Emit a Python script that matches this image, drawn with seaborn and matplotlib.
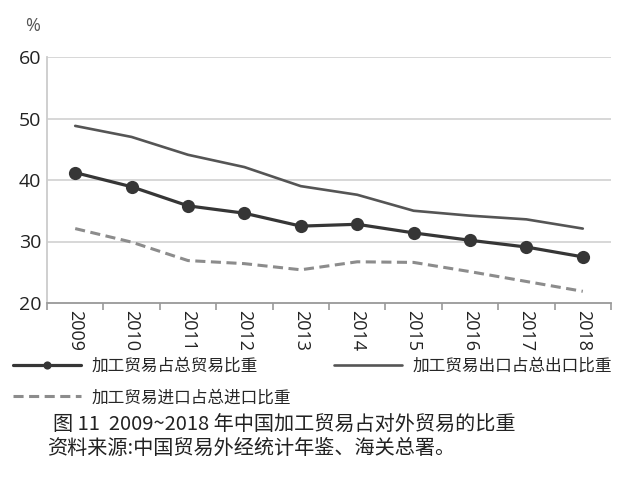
import matplotlib
matplotlib.use('Agg')
import matplotlib.pyplot as plt
import seaborn as sns
import numpy as np

years = ['2009', '2010', '2011', '2012', '2013', '2014', '2015', '2016', '2017', '2018']
total_share = [41.2, 38.9, 35.8, 34.6, 32.5, 32.8, 31.4, 30.2, 29.1, 27.5]
export_share = [48.8, 47.0, 44.1, 42.1, 39.0, 37.6, 35.0, 34.2, 33.6, 32.1]
import_share = [32.1, 29.9, 26.9, 26.4, 25.4, 26.7, 26.6, 25.1, 23.5, 21.9]
series_names = ['加工贸易占总贸易比重', '加工贸易出口占总出口比重', '加工贸易进口占总进口比重']
y_ticks = [20, 30, 40, 50, 60]
unit_label = '%'
caption = '图 11  2009~2018 年中国加工贸易占对外贸易的比重'
source = '资料来源:中国贸易外经统计年鉴、海关总署。'

sns.set_theme(style='white')
plt.rcParams['font.family'] = ['Noto Sans CJK SC', 'DejaVu Sans']

fig = plt.figure(figsize=(6.37, 4.79), dpi=100)
ax = fig.add_axes([47 / 637, 1 - 303 / 479, 564 / 637, 246 / 479])

x = np.arange(len(years))
sns.lineplot(x=x, y=total_share, ax=ax, color='#363636', linewidth=2.3,
             marker='o', markersize=9.5, markeredgewidth=0, label=series_names[0])
sns.lineplot(x=x, y=export_share, ax=ax, color='#555555', linewidth=1.9,
             label=series_names[1])
sns.lineplot(x=x, y=import_share, ax=ax, color='#8c8c8c', linewidth=2.2,
             linestyle=(0, (3.3, 1.8)), label=series_names[2])

ax.set_xlim(-0.5, len(years) - 0.5)
ax.set_ylim(20, 60)
ax.set_yticks(y_ticks)
ax.set_yticklabels([str(v) for v in y_ticks], fontsize=14, family='Open Sans', color='#222222')
ax.tick_params(axis='y', length=0, pad=4)
for v in y_ticks[1:]:
    ax.axhline(v, color='#d4d4d4', linewidth=1.3, zorder=0)

ax.set_xticks(x)
ax.set_xticklabels(years, rotation=270, fontsize=13, family='Open Sans', color='#222222')
ax.tick_params(axis='x', which='major', length=0, pad=5)
ax.set_xticks(np.arange(len(years) + 1) - 0.5, minor=True)
ax.tick_params(axis='x', which='minor', length=5, width=1.2, color='#999999', direction='out', bottom=True)
ax.set_xlabel('')
ax.set_ylabel('')

for s in ['top', 'right']:
    ax.spines[s].set_visible(False)
ax.spines['left'].set_color('#cccccc')
ax.spines['left'].set_linewidth(1.3)
ax.spines['bottom'].set_color('#999999')
ax.spines['bottom'].set_linewidth(1.3)

handles, labels = ax.get_legend_handles_labels()
ax.get_legend().remove()
order = [0, 2, 1]
fig.legend([handles[i] for i in order], [labels[i] for i in order],
           loc='upper left', bbox_to_anchor=(13 / 637, 1 - 358 / 479),
           ncol=2, frameon=False, prop={'size': 12}, handlelength=4.1,
           handletextpad=0.6, columnspacing=2.6, labelspacing=0.85,
           borderpad=0, borderaxespad=0, markerscale=0.62)

fig.text(33 / 637, 1 - 26 / 479, unit_label, fontsize=13, color='#555555',
         ha='center', va='center', family='Open Sans')
fig.text(53 / 637, 1 - 425 / 479, caption, fontsize=14.5, color='#222222',
         ha='left', va='center')
fig.text(47 / 637, 1 - 448 / 479, source, fontsize=14.5, color='#222222',
         ha='left', va='center')

fig.savefig('out.png', dpi=100)
